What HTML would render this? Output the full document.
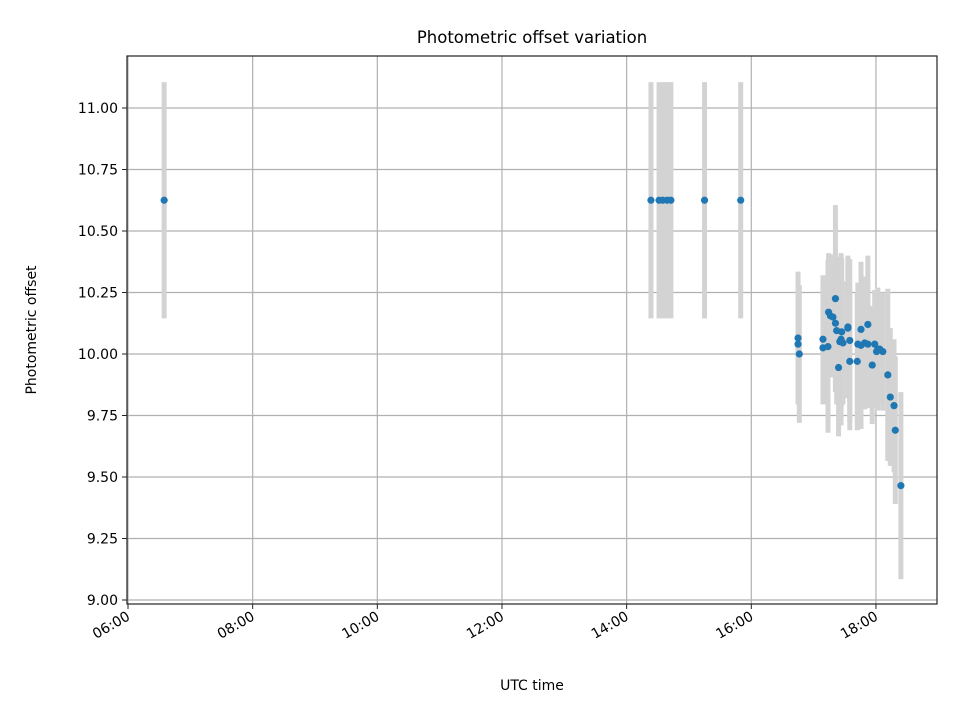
<!DOCTYPE html>
<html><head><meta charset="utf-8"><style>
html,body{margin:0;padding:0;background:#fff;}
svg{display:block;font-family:"DejaVu Sans","Liberation Sans",sans-serif;}
</style></head><body>
<svg id="chart" width="960" height="720" viewBox="0 0 960 720">
<rect width="960" height="720" fill="#fff"/>
<text x="532" y="43" text-anchor="middle" font-size="16.5">Photometric offset variation</text>
<g id="grid"></g>
<g id="bars"></g>
<g id="pts"></g>
<rect x="127" y="56" width="810" height="548" fill="none" stroke="#222" stroke-width="1.2"/>
<g id="ticks"></g>
<text x="532" y="690" text-anchor="middle" font-size="14">UTC time</text>
<text transform="translate(36,330) rotate(-90)" text-anchor="middle" font-size="14">Photometric offset</text>
</svg>
<script>
const times=[6.58,14.39,14.52,14.58,14.65,14.71,15.25,15.83,16.75,16.75,16.77,17.15,17.15,17.23,17.24,17.27,17.31,17.35,17.37,17.40,17.35,17.45,17.42,17.44,17.47,17.55,17.55,17.58,17.58,17.70,17.71,17.76,17.82,17.87,17.76,17.87,17.94,17.98,18.03,18.01,18.11,18.06,18.19,18.23,18.29,18.31,18.40];
const values=[10.625,10.625,10.625,10.625,10.625,10.625,10.625,10.625,10.065,10.04,10.00,10.06,10.025,10.03,10.17,10.155,10.15,10.225,10.095,9.945,10.125,10.09,10.05,10.06,10.045,10.11,10.105,10.055,9.97,9.97,10.04,10.035,10.045,10.04,10.10,10.12,9.955,10.04,10.02,10.01,10.01,10.02,9.915,9.825,9.79,9.69,9.465];
const errors=[0.48,0.48,0.48,0.48,0.48,0.48,0.48,0.48,0.27,0.24,0.28,0.26,0.23,0.35,0.24,0.25,0.22,0.38,0.30,0.28,0.28,0.30,0.25,0.35,0.25,0.29,0.26,0.33,0.28,0.28,0.25,0.34,0.27,0.26,0.24,0.28,0.24,0.22,0.25,0.23,0.24,0.22,0.35,0.28,0.27,0.30,0.38];
const yTicks=[9.00,9.25,9.50,9.75,10.00,10.25,10.50,10.75,11.00];
const xTicks=[6,8,10,12,14,16,18];
const X=h=>128+(h-6)*62.33;
const Y=v=>600-(v-9)*246;
const NS="http://www.w3.org/2000/svg";
function mk(tag,attrs,parent){const e=document.createElementNS(NS,tag);for(const k in attrs)e.setAttribute(k,attrs[k]);document.getElementById(parent).appendChild(e);return e;}
yTicks.forEach(v=>{
 const g=mk('line',{x1:127,x2:937,y1:Y(v),y2:Y(v),stroke:'#b0b0b0','stroke-width':1.2},'grid');
 
 
 const t=mk('line',{x1:122,x2:127,y1:Y(v),y2:Y(v),stroke:'#222','stroke-width':1},'ticks');
 
 
 const l=mk('text',{x:118,y:Y(v)+5,'text-anchor':'end','font-size':14},'ticks');
 l.textContent=v.toFixed(2);
 
 
});
xTicks.forEach(h=>{
 const g=mk('line',{x1:X(h),x2:X(h),y1:56,y2:604,stroke:'#b0b0b0','stroke-width':1.2},'grid');
 
 
 const t=mk('line',{x1:X(h),x2:X(h),y1:604,y2:609,stroke:'#222','stroke-width':1},'ticks');
 
 
 const l=mk('text',{x:0,y:0,'text-anchor':'end','font-size':14,transform:`translate(${X(h)+3},${619}) rotate(-30)`},'ticks');
 l.textContent=String(h).padStart(2,'0')+':00';
 
 
});
times.forEach((h,i)=>{
 const b=mk('line',{x1:X(h),x2:X(h),y1:Y(values[i]+errors[i]),y2:Y(values[i]-errors[i]),stroke:'#d3d3d3','stroke-width':5},'bars');
 
 
});
times.forEach((h,i)=>{
 const c=mk('circle',{cx:X(h),cy:Y(values[i]),r:3.6,fill:'#1f77b4'},'pts');
 
 
});
</script>
</body></html>
